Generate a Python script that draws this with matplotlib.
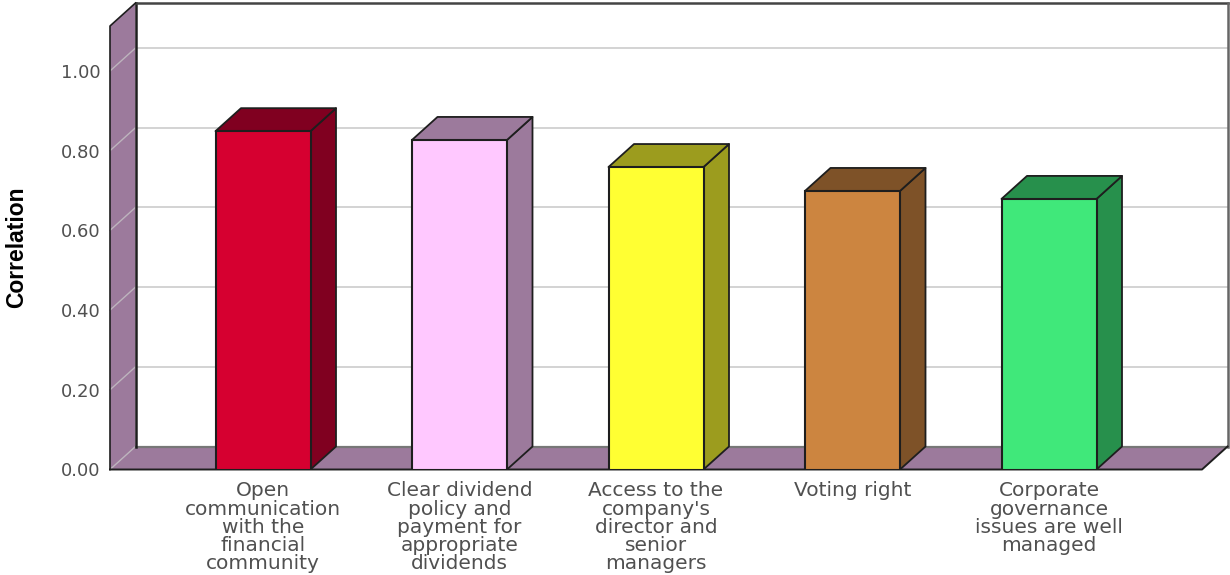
import matplotlib
matplotlib.use("Agg")
import matplotlib.pyplot as plt

categories = ["Open\ncommunication\nwith the\nfinancial\ncommunity",
              "Clear dividend\npolicy and\npayment for\nappropriate\ndividends",
              "Access to the\ncompany's\ndirector and\nsenior\nmanagers",
              "Voting right",
              "Corporate\ngovernance\nissues are well\nmanaged"]
values = [0.849, 0.827, 0.759, 0.699, 0.679]
face_colors = ["#D60030", "#FFC8FF", "#FFFF33", "#CC8540", "#40E87A"]
shade_colors = ["#800020", "#9C7A9C", "#9C9C1E", "#7E5228", "#27904C"]
yticks = [0.0, 0.2, 0.4, 0.6, 0.8, 1.0]
ytick_labels = ["0.00", "0.20", "0.40", "0.60", "0.80", "1.00"]
y_label = "Correlation"

W, H = 1230, 575
L, R, B, T = 110, 1202, 469.5, 26
UNIT_X, UNIT_Y = 196.5, 398.5
DEPTH_PX_X, DEPTH_PX_Y = 25.5, 23
WALL = "#9C7A9C"
EDGE = "#1E1E1E"
GRID = "#CCCCCC"

fig = plt.figure(figsize=(W / 100, H / 100), dpi=100, facecolor="white")
ax = fig.add_axes([L / W, 1 - B / H, (R - L) / W, (B - T) / H])
x0 = -(263 - L) / UNIT_X
ax.set_xlim(x0, x0 + (R - L) / UNIT_X)
ax.set_ylim(0, (B - T) / UNIT_Y)
xl, xr = ax.get_xlim()
yb, yt = ax.get_ylim()
dx, dy = DEPTH_PX_X / UNIT_X, DEPTH_PX_Y / UNIT_Y
for s in ax.spines.values():
    s.set_visible(False)
ax.patch.set_visible(False)

# walls and floor
ax.fill([xl, xl + dx, xl + dx, xl], [yb, yb + dy, yt + dy, yt], fc=WALL, ec="none", clip_on=False, zorder=1)
ax.fill([xl, xr, xr + dx, xl + dx], [yb, yb, yb + dy, yb + dy], fc=WALL, ec="none", clip_on=False, zorder=1)
# grid lines over wall and back plane
for v in yticks:
    ax.plot([xl, xl + dx], [v, v + dy], color="#BDB4BD", lw=1.0, clip_on=False, zorder=2)
    if v > 0:
        ax.plot([xl + dx, xr + dx], [v + dy, v + dy], color=GRID, lw=1.2, clip_on=False, zorder=2)
# frame lines
ax.plot([xl + dx, xr + dx], [yb + dy, yb + dy], color="#777777", lw=1.6, clip_on=False, zorder=3)
ax.plot([xl + dx, xl + dx], [yb + dy, yt + dy], color=EDGE, lw=1.8, clip_on=False, zorder=3)
ax.plot([xl + dx, xr + dx], [yt + dy, yt + dy], color="#444444", lw=1.8, clip_on=False, zorder=3)
ax.plot([xr + dx, xr + dx], [yb + dy, yt + dy], color="#666666", lw=1.8, clip_on=False, zorder=3)
ax.plot([xl, xl, xl + dx], [yb, yt, yt + dy], color=EDGE, lw=1.2, clip_on=False, zorder=3)
ax.plot([xl, xr, xr + dx], [yb, yb, yb + dy], color=EDGE, lw=1.4, clip_on=False, zorder=3)

# bars
width = 95 / UNIT_X
positions = list(range(len(values)))
for p, v, fc, sc in zip(positions, values, face_colors, shade_colors):
    a, b = p - width / 2, p + width / 2
    ax.fill([b, b + dx, b + dx, b], [0, dy, v + dy, v], fc=sc, ec=EDGE, lw=1.3, zorder=4, joinstyle="round")
    ax.fill([a, b, b + dx, a + dx], [v, v, v + dy, v + dy], fc=sc, ec=EDGE, lw=1.3, zorder=4, joinstyle="round")
    ax.bar(p, v, width=width, color=fc, edgecolor=EDGE, linewidth=1.5, zorder=5)

ax.set_yticks(yticks, ytick_labels, fontfamily="DejaVu Sans", fontsize=13, color="#505050")
ax.set_xticks(positions, categories, fontfamily="DejaVu Sans", fontsize=14.5, color="#505050", linespacing=0.95)
ax.tick_params(axis="both", length=0)
ax.tick_params(axis="y", pad=7)
ax.tick_params(axis="x", pad=8.5)

ax.set_ylabel(y_label, fontfamily="Liberation Sans", fontsize=16.5, fontweight="bold", color="black")
ax.yaxis.set_label_coords((28 - L) / (R - L), 0.5)

fig.savefig("out.png", dpi=100, facecolor="white")
